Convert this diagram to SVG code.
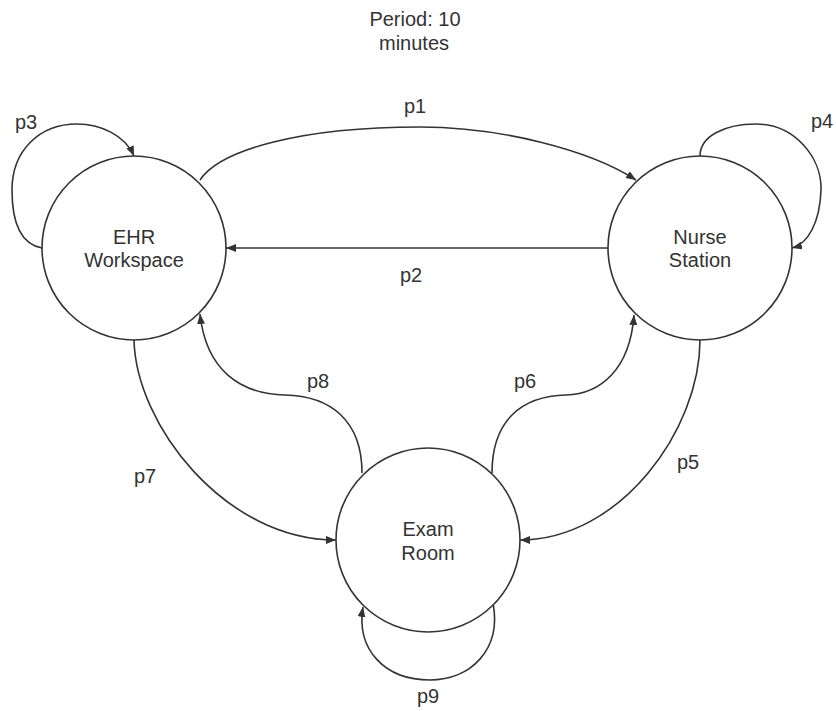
<svg xmlns="http://www.w3.org/2000/svg" width="836" height="711" viewBox="0 0 836 711">
  <defs>
    <marker id="arrow" markerUnits="userSpaceOnUse" markerWidth="12" markerHeight="10" refX="10" refY="4" orient="auto">
      <path d="M0,0 L10,4 L0,8 z" fill="#333"/>
    </marker>
    <style>
      .node { fill: #fff; stroke: #333; stroke-width: 1.6; }
      .edge { fill: none; stroke: #333; stroke-width: 1.6; marker-end: url(#arrow); }
      text { font-family: "Liberation Sans", Arial, sans-serif; font-size: 20px; fill: #333; }
      .c { text-anchor: middle; }
    </style>
  </defs>
  <rect width="836" height="711" fill="#fff"/>

  <g id="title">
    <text class="c" x="415" y="26">Period: 10</text>
    <text class="c" x="414" y="50">minutes</text>
  </g>

  <g id="connectors">
    <path id="e-p1" class="edge" d="M200,180 C220,150 300,127 420,127 C500,127 590,150 636,180"/>
    <text class="c" x="415" y="113">p1</text>
    <path id="e-p2" class="edge" d="M608,248 L226,248"/>
    <text class="c" x="411" y="282">p2</text>
    <path id="e-p3" class="edge" d="M42,248 C20,244 12,220 12,190 C12,150 40,124 77,124 C100,124 125,135 134,156"/>
    <text class="c" x="26" y="129">p3</text>
    <path id="e-p4" class="edge" d="M700,156 C700,136 725,124 756,124 C795,124 822,158 821,190 C820,222 808,244 792,248"/>
    <text x="811" y="128">p4</text>
    <path id="e-p5" class="edge" d="M700,340 C700,430 620,540 520,540"/>
    <text class="c" x="688" y="469">p5</text>
    <path id="e-p6" class="edge" d="M492,473 C492,420 522,396 566,395 C600,394 630,370 634,315"/>
    <text class="c" x="525" y="388">p6</text>
    <path id="e-p7" class="edge" d="M134,340 C136,425 225,540 336,540"/>
    <text class="c" x="145" y="483">p7</text>
    <path id="e-p8" class="edge" d="M362,473 C362,420 330,396 285,395 C240,394 206,370 200,314"/>
    <text class="c" x="318" y="388">p8</text>
    <path id="e-p9" class="edge" d="M493,603 C502,650 470,680 430,680 C385,680 356,650 363,607"/>
    <text class="c" x="428" y="703">p9</text>
  </g>

  <g id="node-ehr">
    <circle class="node" cx="134" cy="248" r="92"/>
    <text class="c" x="134" y="244">EHR</text>
    <text class="c" x="134" y="267">Workspace</text>
  </g>
  <g id="node-nurse">
    <circle class="node" cx="700" cy="248" r="92"/>
    <text class="c" x="700" y="244">Nurse</text>
    <text class="c" x="700" y="267">Station</text>
  </g>
  <g id="node-exam">
    <circle class="node" cx="428" cy="540" r="92"/>
    <text class="c" x="428" y="536">Exam</text>
    <text class="c" x="428" y="560">Room</text>
  </g>
</svg>
